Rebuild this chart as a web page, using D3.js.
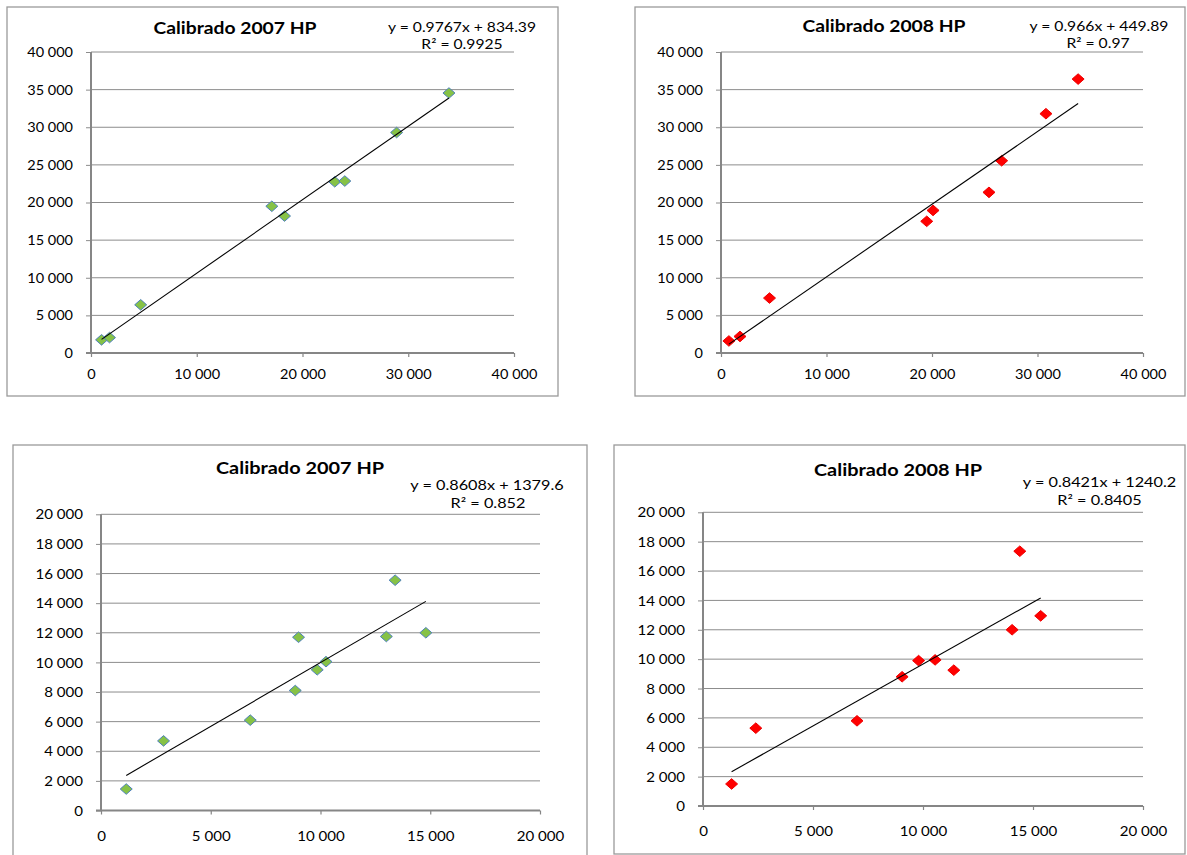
<!DOCTYPE html>
<html><head><meta charset="utf-8">
<script src="https://cdn.jsdelivr.net/npm/d3@7"></script>
<style>
html,body{margin:0;padding:0;background:#fff;}
svg{display:block;font-family:Lato,"Open Sans",sans-serif;}
</style></head>
<body>
<svg id="c" width="1187" height="855"></svg>
<script>
// ---------------- DATA ----------------
const titles = ["Calibrado 2007 HP", "Calibrado 2008 HP", "Calibrado 2007 HP", "Calibrado 2008 HP"];
const eqTexts = ["y = 0.9767x + 834.39", "y = 0.966x + 449.89", "y = 0.8608x + 1379.6", "y = 0.8421x + 1240.2"];
const r2Texts = ["R² = 0.9925", "R² = 0.97", "R² = 0.852", "R² = 0.8405"];
const slopes = [0.9767, 0.966, 0.8608, 0.8421];
const intercepts = [834.39, 449.89, 1379.6, 1240.2];

const p1X = [1000, 1750, 4700, 17100, 18300, 23050, 24000, 28900, 33850];
const p1Y = [1750, 2050, 6400, 19500, 18200, 22750, 22850, 29300, 34550];
const p2X = [750, 1800, 4600, 19500, 20100, 25400, 26600, 30800, 33850];
const p2Y = [1600, 2200, 7300, 17500, 18950, 21350, 25550, 31800, 36400];
const p3X = [1150, 2850, 6800, 8850, 9000, 9850, 10250, 13000, 13400, 14800];
const p3Y = [1450, 4700, 6100, 8100, 11700, 9500, 10050, 11750, 15550, 12000];
const p4X = [1300, 2400, 7000, 9050, 9800, 10550, 11400, 14050, 14400, 15350];
const p4Y = [1500, 5300, 5800, 8800, 9900, 9950, 9250, 12000, 17350, 12950];

const bigTicks = [0, 10000, 20000, 30000, 40000];
const bigYTicks = [0, 5000, 10000, 15000, 20000, 25000, 30000, 35000, 40000];
const smallTicks = [0, 5000, 10000, 15000, 20000];
const smallYTicks = [0, 2000, 4000, 6000, 8000, 10000, 12000, 14000, 16000, 18000, 20000];

// ---------------- LAYOUT / STYLE ----------------
const SX = 1.17; // horizontal stretch of the original picture's text
const fmt = d3.formatLocale({decimal: ".", thousands: "\u00a0", grouping: [3], currency: ["", ""]}).format(",d");

const panels = [
  {xs: p1X, ys: p1Y, xt: bigTicks, yt: bigYTicks, frame: [7, 7, 558, 396],
   px: [91, 514], py: [353, 52], title: [235, 28], eq: [462, 27], r2: [462, 44],
   fill: "#86c246", stroke: "#4f81bd", tickFs: 12.4, titleFs: 16.5, eqFs: 13.4, xlab: 22},
  {xs: p2X, ys: p2Y, xt: bigTicks, yt: bigYTicks, frame: [635, 7, 1185, 396],
   px: [721, 1143], py: [353, 52], title: [884, 26], eq: [1099, 26], r2: [1098, 43],
   fill: "#ff0000", stroke: "#ee0000", tickFs: 12.4, titleFs: 16.5, eqFs: 13.4, xlab: 22},
  {xs: p3X, ys: p3Y, xt: smallTicks, yt: smallYTicks, frame: [13, 445, 587, 880],
   px: [101, 540], py: [810.5, 514.3], title: [300, 468], eq: [487, 485], r2: [488, 503],
   fill: "#86c246", stroke: "#4f81bd", tickFs: 12.9, titleFs: 17, eqFs: 13.9, xlab: 26},
  {xs: p4X, ys: p4Y, xt: smallTicks, yt: smallYTicks, frame: [614, 445, 1185, 854],
   px: [703, 1143], py: [806, 512.3], title: [898, 470], eq: [1099.5, 482], r2: [1099.5, 500],
   fill: "#ff0000", stroke: "#ee0000", tickFs: 12.9, titleFs: 17, eqFs: 13.9, xlab: 25}
];

const svg = d3.select("#c");

function sText(g, txt, cx, cy, fs, weight) {
  g.append("text")
    .attr("transform", `translate(${cx},${cy}) scale(${SX},1)`)
    .attr("text-anchor", "middle")
    .attr("dy", "0.36em")
    .attr("font-size", fs)
    .attr("font-weight", weight || "normal")
    .attr("fill", "#000")
    .text(txt);
}

panels.forEach((p, i) => {
  const g = svg.append("g");
  const [fx0, fy0, fx1, fy1] = p.frame;
  g.append("rect").attr("x", fx0).attr("y", fy0).attr("width", fx1 - fx0).attr("height", fy1 - fy0)
    .attr("fill", "#fff").attr("stroke", "#9a9a9a").attr("stroke-width", 1.3);

  const xMax = p.xt[p.xt.length - 1], yMax = p.yt[p.yt.length - 1];
  const x = d3.scaleLinear().domain([0, xMax]).range(p.px);
  const y = d3.scaleLinear().domain([0, yMax]).range(p.py);

  // gridlines
  g.append("g").selectAll("line").data(p.yt.filter(t => t > 0)).join("line")
    .attr("x1", x(0)).attr("x2", x(xMax)).attr("y1", d => y(d)).attr("y2", d => y(d))
    .attr("stroke", "#8c8c8c").attr("stroke-width", 1);

  // y axis
  const gy = g.append("g").attr("transform", `translate(${x(0)},0)`)
    .call(d3.axisLeft(y).tickValues(p.yt).tickFormat(fmt).tickSizeInner(5).tickSizeOuter(0));
  gy.select(".domain").remove();
  gy.selectAll(".tick line").attr("stroke", "#8c8c8c");
  gy.selectAll(".tick text")
    .attr("x", -18 / SX).attr("dy", "0.36em")
    .attr("transform", `scale(${SX},1)`)
    .attr("font-size", p.tickFs).attr("font-family", "Lato").attr("fill", "#000");

  // x axis
  const gx = g.append("g").attr("transform", `translate(0,${y(0)})`)
    .call(d3.axisBottom(x).tickValues(p.xt).tickFormat(fmt).tickSizeInner(4).tickSizeOuter(0));
  gx.select(".domain").remove();
  gx.selectAll(".tick line").attr("stroke", "#868686").attr("stroke-width", 1.2);
  gx.selectAll(".tick text")
    .attr("y", p.xlab).attr("dy", "0.36em")
    .attr("transform", `scale(${SX},1)`)
    .attr("font-size", p.tickFs).attr("font-family", "Lato").attr("fill", "#000");

  // axis lines
  g.append("line").attr("x1", x(0)).attr("x2", x(0)).attr("y1", y(0)).attr("y2", y(yMax))
    .attr("stroke", "#868686").attr("stroke-width", 2);
  g.append("line").attr("x1", x(0) - 5).attr("x2", x(xMax)).attr("y1", y(0)).attr("y2", y(0))
    .attr("stroke", "#868686").attr("stroke-width", 2);

  // points
  const pts = p.xs.map((v, k) => [v, p.ys[k]]);
  const dw = 6, dh = 5.3;
  g.append("g").selectAll("path").data(pts).join("path")
    .attr("transform", d => `translate(${x(d[0])},${y(d[1])})`)
    .attr("d", `M0,${-dh}L${dw},0L0,${dh}L${-dw},0Z`)
    .attr("fill", p.fill).attr("stroke", p.stroke).attr("stroke-width", 1);

  // trend line
  const x0 = d3.min(p.xs), x1 = d3.max(p.xs);
  const fy = v => slopes[i] * v + intercepts[i];
  g.append("line").attr("x1", x(x0)).attr("y1", y(fy(x0))).attr("x2", x(x1)).attr("y2", y(fy(x1)))
    .attr("stroke", "#000").attr("stroke-width", 1.1);

  // texts
  sText(g, titles[i], p.title[0], p.title[1], p.titleFs, "bold");
  sText(g, eqTexts[i], p.eq[0], p.eq[1], p.eqFs);
  sText(g, r2Texts[i], p.r2[0], p.r2[1], p.eqFs);
});
</script>
</body></html>
